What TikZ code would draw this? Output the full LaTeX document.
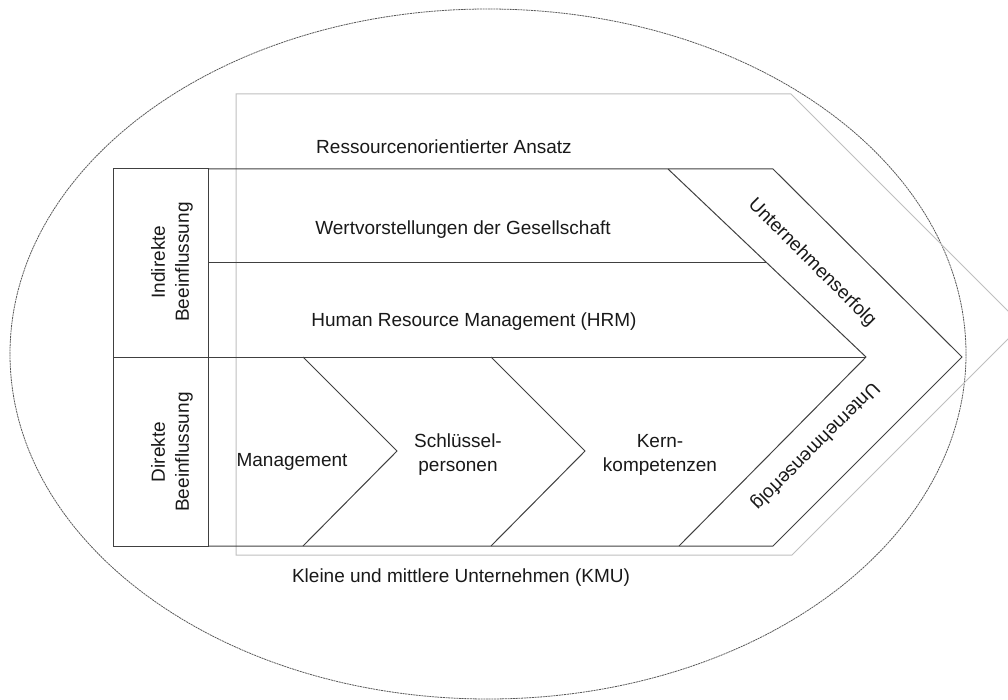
\documentclass[tikz,border=0pt]{standalone}
\usepackage{fontspec}
\setmainfont{Liberation Sans}
\begin{document}
\begin{tikzpicture}[x=1pt,y=-1pt,
  frame/.style={draw=black!75, line width=1pt, line join=miter},
  outline/.style={draw=black!25, line width=1pt},
  ring/.style={draw=black!65, line width=0.8pt, dash pattern=on 2pt off 0.7pt},
  lbl/.style={font=\fontsize{19}{24}\selectfont, inner sep=0pt, align=center, text=black!90}]
\useasboundingbox (0,0) rectangle (1008,700);

% enclosing ellipse and the light outline arrow behind the frame
\begin{scope}
  \clip (0,0) rectangle (1008,700);
  \draw[ring] (488,354) ellipse [x radius=478, y radius=345];
  \draw[outline] (236,94) -- (791,94) -- (1022,325) -- (792,555) -- (236,555) -- cycle;
\end{scope}

% left column
\draw[frame] (113,169) rectangle (208,546);
\draw[frame] (113,357) -- (208,357);

% main arrow frame
\draw[frame] (208,169) -- (773,169) -- (962,357) -- (773,546) -- (208,546);
\draw[frame] (668,169) -- (866,357) -- (679,546);
\draw[frame] (208,263) -- (767,263);
\draw[frame] (208,357) -- (866,357);

% chevrons in the lower row
\draw[frame] (303,357) -- (397,451) -- (303,546);
\draw[frame] (491,357) -- (585,451) -- (491,546);

% labels
\node[lbl] (ansatz) at (444,147) {Ressourcenorientierter Ansatz};
\node[lbl] (werte) at (463,230) {Wertvorstellungen der Gesellschaft};
\node[lbl] (hrm) at (474,322) {Human Resource Management (HRM)};
\node[lbl] (kmu) at (461,578) {Kleine und mittlere Unternehmen (KMU)};
\node[lbl] (mgmt) at (292,462) {Management};
\node[lbl] (schl) at (458,455) {Schlüssel-\\personen};
\node[lbl] (kern) at (660,455) {Kern-\\kompetenzen};
\node[lbl, rotate=90] (indir) at (172,262) {Indirekte\\Beeinflussung};
\node[lbl, rotate=90] (dir) at (172,452) {Direkte\\Beeinflussung};
\node[lbl, rotate=-45] (erfolgA) at (812,263) {Unternehmenserfolg};
\node[lbl, rotate=225] (erfolgB) at (815,446) {Unternehmenserfolg};
\end{tikzpicture}
\end{document}
